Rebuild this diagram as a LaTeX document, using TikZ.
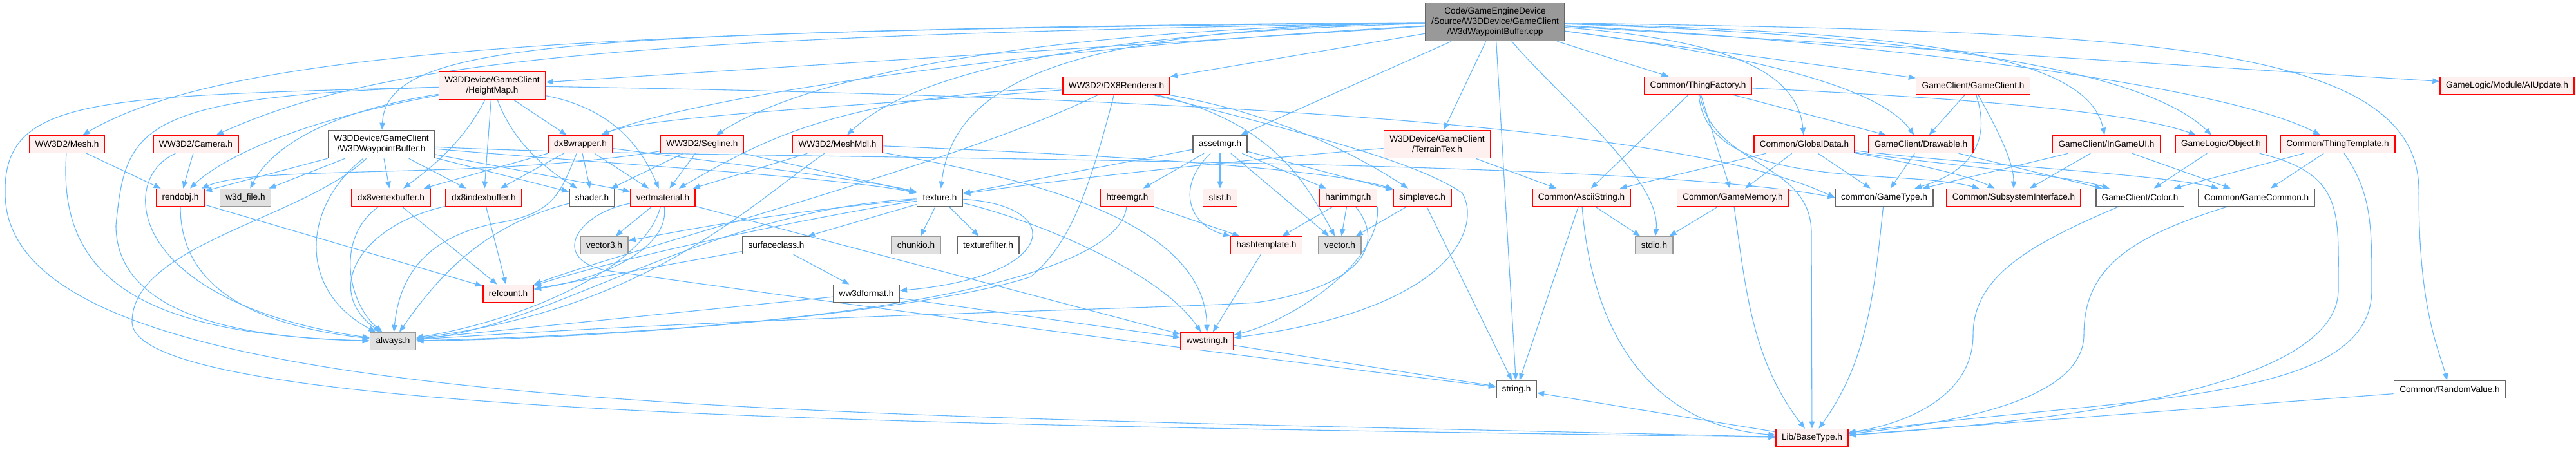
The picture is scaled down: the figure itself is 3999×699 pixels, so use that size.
\documentclass[tikz,border=0pt]{standalone}
\usepackage{fontspec}
\setmainfont{Liberation Sans}
\usetikzlibrary{arrows.meta,backgrounds}
\definecolor{EdgeBlue}{HTML}{63B8FF}
\definecolor{TruncLine}{HTML}{FF0000}
\definecolor{TruncFill}{HTML}{FFF0F0}
\definecolor{ExtLine}{HTML}{999999}
\definecolor{ExtFill}{HTML}{E0E0E0}
\definecolor{PlainLine}{HTML}{666666}
\definecolor{RootFill}{HTML}{999999}

\begin{document}
\begin{tikzpicture}[
    x=0.5pt, y=-0.5pt,
    filenode/.style={rectangle, line width=0.8pt, font=\fontsize{6.8}{8}\selectfont, text=black, align=center, inner xsep=4.5pt, inner ysep=1pt, minimum height=13.5pt},
    truncnode/.style={filenode, draw=TruncLine, fill=TruncFill},
    plainnode/.style={filenode, draw=PlainLine, fill=white},
    extnode/.style={filenode, draw=ExtLine, fill=ExtFill},
    rootnode/.style={filenode, draw=PlainLine, fill=RootFill, minimum height=29.5pt},
    twoline/.style={minimum height=21.5pt},
    incedge/.style={draw=EdgeBlue, line width=0.55pt, -{Triangle[length=5.5pt,width=4.2pt]}}
]
\useasboundingbox (0,0) rectangle (3999,699);

\node[rootnode] (root) at (2321,34) {Code/GameEngineDevice\\/Source/W3DDevice/GameClient\\/W3dWaypointBuffer.cpp};

\node[truncnode, twoline] (heightmap) at (764,133) {W3DDevice/GameClient\\/HeightMap.h};
\node[truncnode] (dxrenderer) at (1733,133) {WW3D2/DX8Renderer.h};
\node[truncnode] (thingfactory) at (2636,133) {Common/ThingFactory.h};
\node[truncnode] (gameclient) at (3063,133) {GameClient/GameClient.h};
\node[truncnode] (aiupdate) at (3892,133) {GameLogic/Module/AIUpdate.h};

\node[truncnode] (mesh) at (104,224) {WW3D2/Mesh.h};
\node[truncnode] (camera) at (304,224) {WW3D2/Camera.h};
\node[plainnode, twoline] (waypointbuf) at (592,224) {W3DDevice/GameClient\\/W3DWaypointBuffer.h};
\node[truncnode] (dxwrapper) at (901,224) {dx8wrapper.h};
\node[truncnode] (segline) at (1090,224) {WW3D2/Segline.h};
\node[truncnode] (meshmdl) at (1300,224) {WW3D2/MeshMdl.h};
\node[plainnode] (assetmgr) at (1894,224) {assetmgr.h};
\node[truncnode, twoline] (terraintex) at (2231,224) {W3DDevice/GameClient\\/TerrainTex.h};
\node[truncnode] (globaldata) at (2801,224) {Common/GlobalData.h};
\node[truncnode] (drawable) at (2982,224) {GameClient/Drawable.h};
\node[truncnode] (ingameui) at (3270,224) {GameClient/InGameUI.h};
\node[truncnode] (object) at (3448,224) {GameLogic/Object.h};
\node[truncnode] (thingtemplate) at (3629,224) {Common/ThingTemplate.h};

\node[truncnode] (rendobj) at (280,307) {rendobj.h};
\node[extnode] (wfile) at (381,307) {w3d\_file.h};
\node[truncnode] (vertexbuf) at (607,307) {dx8vertexbuffer.h};
\node[truncnode] (indexbuf) at (751,307) {dx8indexbuffer.h};
\node[plainnode] (shader) at (919,307) {shader.h};
\node[truncnode] (vertmat) at (1029,307) {vertmaterial.h};
\node[plainnode] (texture) at (1459,307) {texture.h};
\node[truncnode] (htreemgr) at (1750,307) {htreemgr.h};
\node[truncnode] (slist) at (1894,307) {slist.h};
\node[truncnode] (hanimmgr) at (2093,307) {hanimmgr.h};
\node[truncnode] (simplevec) at (2208,307) {simplevec.h};
\node[truncnode] (asciistring) at (2455,307) {Common/AsciiString.h};
\node[truncnode] (gamememory) at (2690,307) {Common/GameMemory.h};
\node[plainnode] (gametype) at (2925,307) {common/GameType.h};
\node[truncnode] (subsystem) at (3126,307) {Common/SubsystemInterface.h};
\node[plainnode] (color) at (3322,307) {GameClient/Color.h};
\node[plainnode] (gamecommon) at (3503,307) {Common/GameCommon.h};

\node[extnode] (vectorthree) at (938,381) {vector3.h};
\node[plainnode] (surface) at (1205,381) {surfaceclass.h};
\node[extnode] (chunkio) at (1422,381) {chunkio.h};
\node[plainnode] (texfilter) at (1534,381) {texturefilter.h};
\node[truncnode] (hashtemplate) at (1966,381) {hashtemplate.h};
\node[extnode] (vector) at (2080,381) {vector.h};
\node[extnode] (stdio) at (2568,381) {stdio.h};

\node[truncnode] (refcount) at (789,456) {refcount.h};
\node[plainnode] (wwformat) at (1345,456) {ww3dformat.h};

\node[extnode] (always) at (610,530) {always.h};
\node[truncnode] (wwstring) at (1874,530) {wwstring.h};

\node[plainnode] (string) at (2354,605) {string.h};
\node[plainnode] (randomvalue) at (3803,605) {Common/RandomValue.h};

\node[truncnode] (basetype) at (2813,680) {Lib/BaseType.h};

\begin{scope}[on background layer]
\fill[white] (0,0) rectangle (3999,699);

\draw[incedge] (root) -- (heightmap);
\draw[incedge] (root) .. controls (900,45) and (350,80) .. (mesh);
\draw[incedge] (root) .. controls (1000,55) and (600,90) .. (camera);
\draw[incedge] (root) .. controls (900,50) and (600,60) .. (waypointbuf);
\draw[incedge] (root) .. controls (1500,80) and (1050,160) .. (dxwrapper);
\draw[incedge] (root) .. controls (1600,45) and (1250,120) .. (segline);
\draw[incedge] (root) .. controls (1700,50) and (1420,110) .. (meshmdl);
\draw[incedge] (root) -- (dxrenderer);
\draw[incedge] (root) -- (assetmgr);
\draw[incedge] (root) .. controls (1650,45) and (1480,130) .. (texture);
\draw[incedge] (root) -- (terraintex);
\draw[incedge] (root) -- (string);
\draw[incedge] (root) .. controls (2420,150) and (2580,280) .. (stdio);
\draw[incedge] (root) -- (thingfactory);
\draw[incedge] (root) .. controls (2650,60) and (2790,100) .. (globaldata);
\draw[incedge] (root) .. controls (2750,90) and (2920,140) .. (drawable);
\draw[incedge] (root) -- (gameclient);
\draw[incedge] (root) .. controls (2950,50) and (3240,80) .. (ingameui);
\draw[incedge] (root) .. controls (3000,55) and (3330,110) .. (object);
\draw[incedge] (root) .. controls (2900,65) and (3450,130) .. (thingtemplate);
\draw[incedge] (root) -- (aiupdate);
\draw[incedge] (root) .. controls (3300,50) and (3760,60) .. (3755,300) .. controls (3755,480) and (3785,540) .. (randomvalue);

\draw[incedge] (heightmap) .. controls (150,150) and (5,150) .. (8,300) .. controls (8,650) and (1200,640) .. (basetype);
\draw[incedge] (heightmap) .. controls (210,150) and (195,200) .. (180,350) .. controls (180,480) and (350,525) .. (always);
\draw[incedge] (heightmap) .. controls (450,190) and (340,250) .. (rendobj);
\draw[incedge] (heightmap) .. controls (470,180) and (410,250) .. (wfile);
\draw[incedge] (heightmap) .. controls (720,220) and (670,260) .. (vertexbuf);
\draw[incedge] (heightmap) -- (indexbuf);
\draw[incedge] (heightmap) .. controls (800,230) and (860,270) .. (shader);
\draw[incedge] (heightmap) -- (dxwrapper);
\draw[incedge] (heightmap) .. controls (960,170) and (1000,240) .. (vertmat);
\draw[incedge] (heightmap) .. controls (1800,150) and (2600,190) .. (gametype.west);

\draw[incedge] (waypointbuf) -- (rendobj);
\draw[incedge] (waypointbuf) -- (wfile);
\draw[incedge] (waypointbuf) .. controls (470,320) and (460,450) .. (always);
\draw[incedge] (waypointbuf) .. controls (470,340) and (205,380) .. (205,500) .. controls (205,650) and (1500,660) .. (basetype);
\draw[incedge] (waypointbuf) -- (vertexbuf);
\draw[incedge] (waypointbuf) -- (indexbuf);
\draw[incedge] (waypointbuf) -- (shader);
\draw[incedge] (waypointbuf) -- (vertmat);
\draw[incedge] (waypointbuf) .. controls (950,255) and (1300,275) .. (texture);
\draw[incedge] (waypointbuf) .. controls (1100,250) and (2500,240) .. (gametype.west);

\draw[incedge] (dxwrapper) -- (vertexbuf);
\draw[incedge] (dxwrapper) -- (indexbuf);
\draw[incedge] (dxwrapper) -- (shader);
\draw[incedge] (dxwrapper) -- (vertmat);
\draw[incedge] (dxwrapper) .. controls (1100,250) and (1350,280) .. (texture);
\draw[incedge] (dxwrapper) .. controls (870,300) and (860,330) .. (780,345) .. controls (660,365) and (620,430) .. (always);

\draw[incedge] (segline) .. controls (750,280) and (400,255) .. (rendobj);
\draw[incedge] (segline) -- (vertmat);
\draw[incedge] (segline) -- (texture);
\draw[incedge] (segline) -- (shader);

\draw[incedge] (meshmdl) -- (vertmat);
\draw[incedge] (meshmdl) .. controls (1150,330) and (1000,480) .. (always);
\draw[incedge] (meshmdl) .. controls (1550,270) and (1870,330) .. (wwstring);
\draw[incedge] (meshmdl) .. controls (1700,240) and (2050,260) .. (simplevec);

\draw[incedge] (dxrenderer) .. controls (1400,160) and (1000,180) .. (dxwrapper);
\draw[incedge] (dxrenderer) .. controls (1300,150) and (1180,220) .. (vertmat);
\draw[incedge] (dxrenderer) .. controls (1500,250) and (1000,380) .. (refcount);
\draw[incedge] (dxrenderer) .. controls (1690,300) and (1660,380) .. (1600,430) .. controls (1450,480) and (1000,525) .. (always);
\draw[incedge] (dxrenderer) .. controls (1980,190) and (2030,290) .. (vector);
\draw[incedge] (dxrenderer) .. controls (2000,180) and (2120,250) .. (simplevec);
\draw[incedge] (dxrenderer) .. controls (2000,200) and (2200,250) .. (2270,300) .. controls (2300,350) and (2260,480) .. (wwstring);

\draw[incedge] (assetmgr) -- (texture);
\draw[incedge] (assetmgr) -- (htreemgr);
\draw[incedge] (assetmgr) -- (slist);
\draw[incedge] (assetmgr) -- (hanimmgr);
\draw[incedge] (assetmgr) .. controls (1825,290) and (1845,350) .. (hashtemplate);
\draw[incedge] (assetmgr) -- (vector);
\draw[incedge] (assetmgr) -- (simplevec);

\draw[incedge] (texture) -- (surface);
\draw[incedge] (texture) -- (chunkio);
\draw[incedge] (texture) -- (texfilter);
\draw[incedge] (texture) .. controls (1660,320) and (1640,430) .. (wwformat);
\draw[incedge] (texture) .. controls (1300,330) and (1000,390) .. (refcount);
\draw[incedge] (texture) .. controls (1100,325) and (850,510) .. (always);
\draw[incedge] (texture) .. controls (1200,330) and (1050,360) .. (vectorthree);
\draw[incedge] (texture) .. controls (1600,340) and (1800,420) .. (wwstring);

\draw[incedge] (vertmat) -- (vectorthree);
\draw[incedge] (vertmat) .. controls (1040,380) and (950,430) .. (refcount);
\draw[incedge] (vertmat) .. controls (1000,420) and (800,500) .. (always);
\draw[incedge] (vertmat) -- (wwstring);
\draw[incedge] (vertmat) .. controls (900,330) and (850,400) .. (940,420) .. controls (1500,500) and (2150,580) .. (string);

\draw[incedge] (shader) .. controls (750,350) and (680,430) .. (always);
\draw[incedge] (vertexbuf) -- (refcount);
\draw[incedge] (vertexbuf) .. controls (520,370) and (540,470) .. (always);
\draw[incedge] (indexbuf) -- (refcount);
\draw[incedge] (indexbuf) .. controls (560,350) and (500,450) .. (always);
\draw[incedge] (rendobj) -- (refcount);
\draw[incedge] (rendobj) .. controls (280,420) and (350,500) .. (always);

\draw[incedge] (mesh) -- (rendobj);
\draw[incedge] (mesh) .. controls (90,420) and (200,520) .. (always);
\draw[incedge] (camera) -- (rendobj);
\draw[incedge] (camera) .. controls (180,280) and (200,470) .. (always);

\draw[incedge] (surface) -- (wwformat);
\draw[incedge] (surface) -- (refcount);
\draw[incedge] (wwformat) -- (always);
\draw[incedge] (wwformat) -- (wwstring);
\draw[incedge] (hashtemplate) -- (wwstring);
\draw[incedge] (htreemgr) -- (hashtemplate);
\draw[incedge] (htreemgr) .. controls (1740,420) and (1400,510) .. (always);
\draw[incedge] (hanimmgr) -- (vector);
\draw[incedge] (hanimmgr) -- (hashtemplate);
\draw[incedge] (hanimmgr.south east) .. controls (2145,410) and (2000,500) .. (wwstring);
\draw[incedge] (hanimmgr) .. controls (2160,390) and (2090,450) .. (1950,470) .. controls (1800,480) and (1200,490) .. (always);
\draw[incedge] (simplevec) -- (vector);
\draw[incedge] (simplevec) -- (string);

\draw[incedge] (asciistring) -- (string);
\draw[incedge] (asciistring) .. controls (2470,500) and (2550,660) .. (basetype);
\draw[incedge] (asciistring) -- (stdio);
\draw[incedge] (gamememory) -- (stdio);
\draw[incedge] (gamememory) .. controls (2710,450) and (2720,560) .. (basetype);
\draw[incedge] (gametype) .. controls (2910,450) and (2900,560) .. (basetype);

\draw[incedge] (thingfactory) -- (asciistring);
\draw[incedge] (thingfactory) -- (gamememory);
\draw[incedge] (thingfactory) .. controls (2660,260) and (2810,250) .. (2812,360) -- (basetype);
\draw[incedge] (thingfactory) .. controls (2650,300) and (2950,260) .. (subsystem);
\draw[incedge] (thingfactory) -- (drawable);
\draw[incedge] (thingfactory) .. controls (3000,150) and (3300,170) .. (object);

\draw[incedge] (globaldata) -- (asciistring);
\draw[incedge] (globaldata) -- (gamememory);
\draw[incedge] (globaldata) -- (gametype);
\draw[incedge] (globaldata) .. controls (2950,250) and (3050,270) .. (subsystem);
\draw[incedge] (globaldata) .. controls (3000,255) and (3200,270) .. (color);
\draw[incedge] (globaldata) .. controls (3050,255) and (3350,270) .. (gamecommon);

\draw[incedge] (drawable) -- (gametype);
\draw[incedge] (drawable) -- (color);
\draw[incedge] (gameclient) -- (drawable);
\draw[incedge] (gameclient) .. controls (3100,200) and (3126,250) .. (subsystem);
\draw[incedge] (gameclient) .. controls (3085,200) and (3080,260) .. (gametype);
\draw[incedge] (ingameui) -- (gametype);
\draw[incedge] (ingameui) -- (subsystem);
\draw[incedge] (ingameui) -- (gamecommon);
\draw[incedge] (object) -- (color);
\draw[incedge] (object) .. controls (3640,270) and (3630,330) .. (3630,450) .. controls (3630,620) and (3100,660) .. (basetype);
\draw[incedge] (thingtemplate) -- (color);
\draw[incedge] (thingtemplate) -- (gamecommon);
\draw[incedge] (thingtemplate) .. controls (3682,300) and (3682,350) .. (3682,450) .. controls (3682,630) and (3300,615) .. (basetype);
\draw[incedge] (color) .. controls (3150,380) and (3063,430) .. (3063,520) .. controls (3063,620) and (2950,660) .. (basetype);
\draw[incedge] (gamecommon) .. controls (3300,370) and (3235,420) .. (3235,520) .. controls (3235,630) and (3000,660) .. (basetype);
\draw[incedge] (randomvalue) -- (basetype);
\draw[incedge] (basetype) -- (string);
\draw[incedge] (wwstring) -- (string);
\draw[incedge] (terraintex) -- (asciistring);
\draw[incedge] (terraintex) .. controls (1900,250) and (1600,285) .. (texture);
\end{scope}

\end{tikzpicture}
\end{document}
